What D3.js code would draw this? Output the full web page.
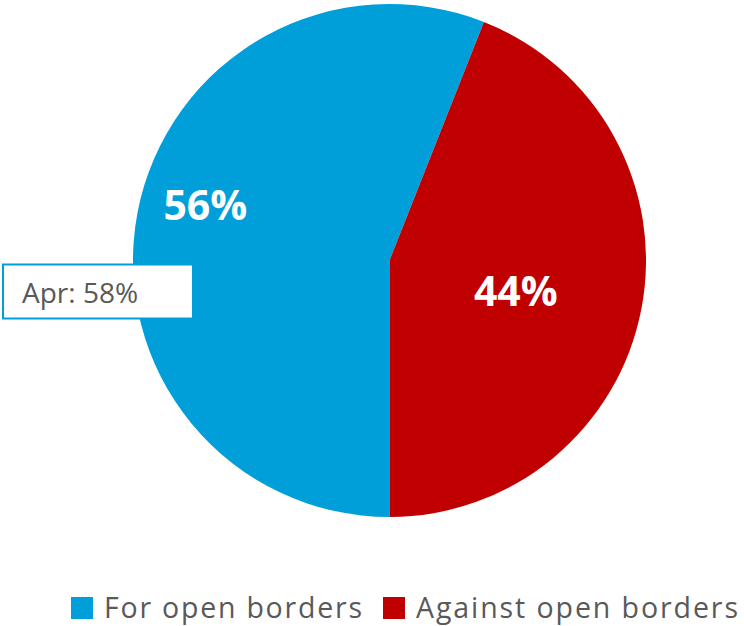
<!DOCTYPE html>
<html>
<head>
<meta charset="utf-8">
<script src="https://cdn.jsdelivr.net/npm/d3@7"></script>
<style>
  html, body { margin: 0; padding: 0; background: #ffffff; }
  svg { display: block; }
</style>
</head>
<body>
<svg id="chart" width="744" height="626"></svg>
<script>
// ---- data ----
const categories = ["For open borders", "Against open borders"];
const values = [56, 44];
const valueLabels = ["56%", "44%"];
const colors = ["#009fda", "#c00000"];
const annotationText = "Apr: 58%";

// ---- layout ----
const W = 744, H = 626;
const cx = 389.5, cy = 260.5, R = 256.5;
const labelRadiusFrac = [0.75, 0.507];
const labelAngleShift = [6 * Math.PI / 180, 3 * Math.PI / 180];

const svg = d3.select("#chart");
const g = svg.append("g").attr("transform", `translate(${cx},${cy})`);

const pie = d3.pie().sort(null).value(d => d)
  .startAngle(Math.PI).endAngle(3 * Math.PI);
const arcs = pie(values);
const arc = d3.arc().innerRadius(0).outerRadius(R);

g.selectAll("path.slice").data(arcs).join("path")
  .attr("class", "slice")
  .attr("d", arc)
  .attr("fill", (d, i) => colors[i]);

g.selectAll("text.vlabel").data(arcs).join("text")
  .attr("class", "vlabel")
  .attr("transform", (d, i) => {
    const r = R * labelRadiusFrac[i];
    const a = (d.startAngle + d.endAngle) / 2 + labelAngleShift[i];
    return `translate(${r * Math.sin(a)},${-r * Math.cos(a)})`;
  })
  .attr("text-anchor", "middle")
  .attr("dy", "0.36em")
  .attr("font-family", "'Open Sans', sans-serif")
  .attr("font-weight", "bold")
  .attr("font-size", 41)
  .attr("fill", "#ffffff")
  .text((d, i) => valueLabels[i]);

// ---- annotation box ----
const ann = svg.append("g");
ann.append("rect")
  .attr("x", 3).attr("y", 264.5)
  .attr("width", 190).attr("height", 54)
  .attr("fill", "#ffffff")
  .attr("stroke", "#009fda")
  .attr("stroke-width", 2);
ann.append("text")
  .attr("x", 22).attr("y", 303)
  .attr("font-family", "'Open Sans', sans-serif")
  .attr("font-size", 28)
  .attr("fill", "#595959")
  .text(annotationText);

// ---- legend ----
const legend = svg.append("g");
const legendTextWidths = [258, 322];
let lx = 71;
categories.forEach((c, i) => {
  legend.append("rect")
    .attr("x", lx).attr("y", 597)
    .attr("width", 22).attr("height", 22)
    .attr("fill", colors[i]);
  legend.append("text")
    .attr("x", lx + 33).attr("y", 618)
    .attr("font-family", "'Open Sans', sans-serif")
    .attr("font-size", 28.5)
    .attr("fill", "#595959")
    .attr("textLength", legendTextWidths[i])
    .attr("lengthAdjust", "spacing")
    .text(c);
  lx = lx + 33 + legendTextWidths[i] + 21;
});
</script>
</body>
</html>
